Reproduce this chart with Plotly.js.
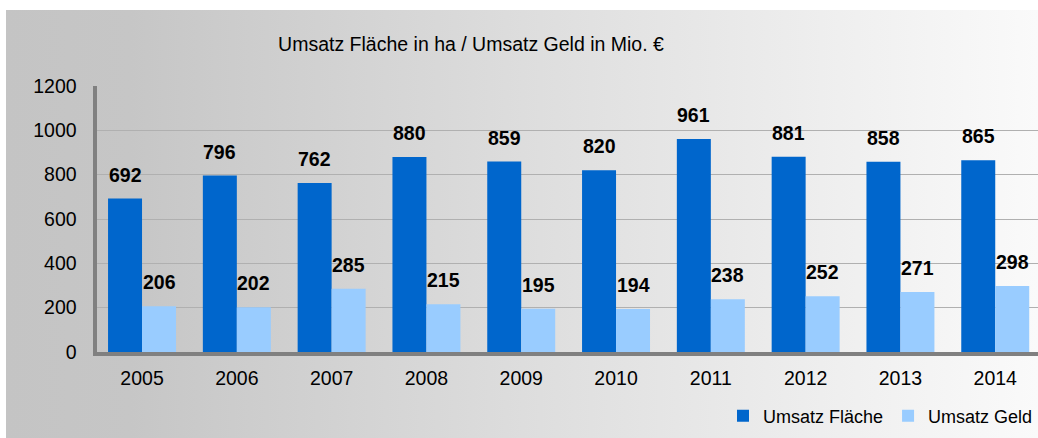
<!DOCTYPE html>
<html>
<head>
<meta charset="utf-8">
<script src="https://cdn.plot.ly/plotly-3.0.1.min.js"></script>
<style>
  html, body { margin: 0; padding: 0; background: #ffffff; width: 1038px; height: 438px; overflow: hidden; }
  #chart { position: absolute; left: 6px; top: 10px; width: 1032px; height: 428px;
           background: linear-gradient(to right, #c4c4c4 0%, #c6c6c6 12%, #e6e6e6 65%, #fafafa 100%); }
</style>
</head>
<body>
<div id="chart"></div>
<script>
// ---- data ----
var years = ['2005', '2006', '2007', '2008', '2009', '2010', '2011', '2012', '2013', '2014'];
var umsatzFlaeche = [692, 796, 762, 880, 859, 820, 961, 881, 858, 865];
var umsatzGeld = [206, 202, 285, 215, 195, 194, 238, 252, 271, 298];
var seriesNames = ['Umsatz Fläche', 'Umsatz Geld'];
var yTicks = [0, 200, 400, 600, 800, 1000, 1200];
var chartTitle = 'Umsatz Fläche in ha / Umsatz Geld in Mio. €';

var FONT = 'Liberation Sans, Arial, sans-serif';
var colors = ['#0066CC', '#99CCFF'];
var series = [umsatzFlaeche, umsatzGeld];

var traces = series.map(function (vals, s) {
  return {
    type: 'bar',
    name: seriesNames[s],
    x: years,
    y: vals,
    marker: { color: colors[s], line: { width: 0 } },
    hoverinfo: 'x+y+name'
  };
});

// data labels as annotations (above each bar); x given as category index
var annotations = [];
series.forEach(function (vals, s) {
  vals.forEach(function (v, i) {
    annotations.push({
      x: i, y: v, xref: 'x', yref: 'y',
      text: '<b>' + v + '</b>',
      showarrow: false,
      xshift: s === 0 ? -17 : 17,
      yanchor: 'bottom',
      yshift: 11,
      font: { family: FONT, size: 19.5, color: '#000000' }
    });
  });
});

var layout = {
  width: 1032,
  height: 428,
  paper_bgcolor: 'rgba(0,0,0,0)',
  plot_bgcolor: 'rgba(0,0,0,0)',
  margin: { l: 91, r: 0, t: 76, b: 86, pad: 0 },
  font: { family: FONT, color: '#000000' },
  title: {
    text: chartTitle,
    font: { family: FONT, size: 19.5, color: '#000000' },
    xref: 'container', yref: 'container',
    x: 465 / 1032, xanchor: 'center',
    y: 1 - 34 / 428, yanchor: 'middle'
  },
  barmode: 'group',
  bargap: 0.283,
  bargroupgap: 0,
  xaxis: {
    type: 'category',
    range: [-0.475, 9.451],
    showgrid: false,
    showline: true, linecolor: '#808080', linewidth: 4,
    ticks: 'outside', ticklen: 6, tickcolor: 'rgba(0,0,0,0)',
    tickfont: { family: FONT, size: 19.5, color: '#000000' },
    zeroline: false,
    fixedrange: true
  },
  yaxis: {
    range: [0, 1200],
    tickvals: yTicks,
    ticktext: yTicks.map(String),
    showgrid: true, gridcolor: '#b0b0b0', gridwidth: 1,
    showline: true, linecolor: '#808080', linewidth: 4,
    ticks: 'outside', ticklen: 12.5, tickcolor: 'rgba(0,0,0,0)',
    tickfont: { family: FONT, size: 19.5, color: '#000000' },
    zeroline: false,
    fixedrange: true
  },
  showlegend: true,
  legend: {
    orientation: 'h',
    xref: 'paper', yref: 'container',
    x: 1.003, xanchor: 'right',
    y: 1 - 406 / 428, yanchor: 'middle',
    bgcolor: 'rgba(0,0,0,0)',
    font: { family: FONT, size: 18, color: '#000000' },
    traceorder: 'normal'
  },
  annotations: annotations
};

Plotly.newPlot('chart', traces, layout, { displayModeBar: false, staticPlot: true });
</script>
</body>
</html>
